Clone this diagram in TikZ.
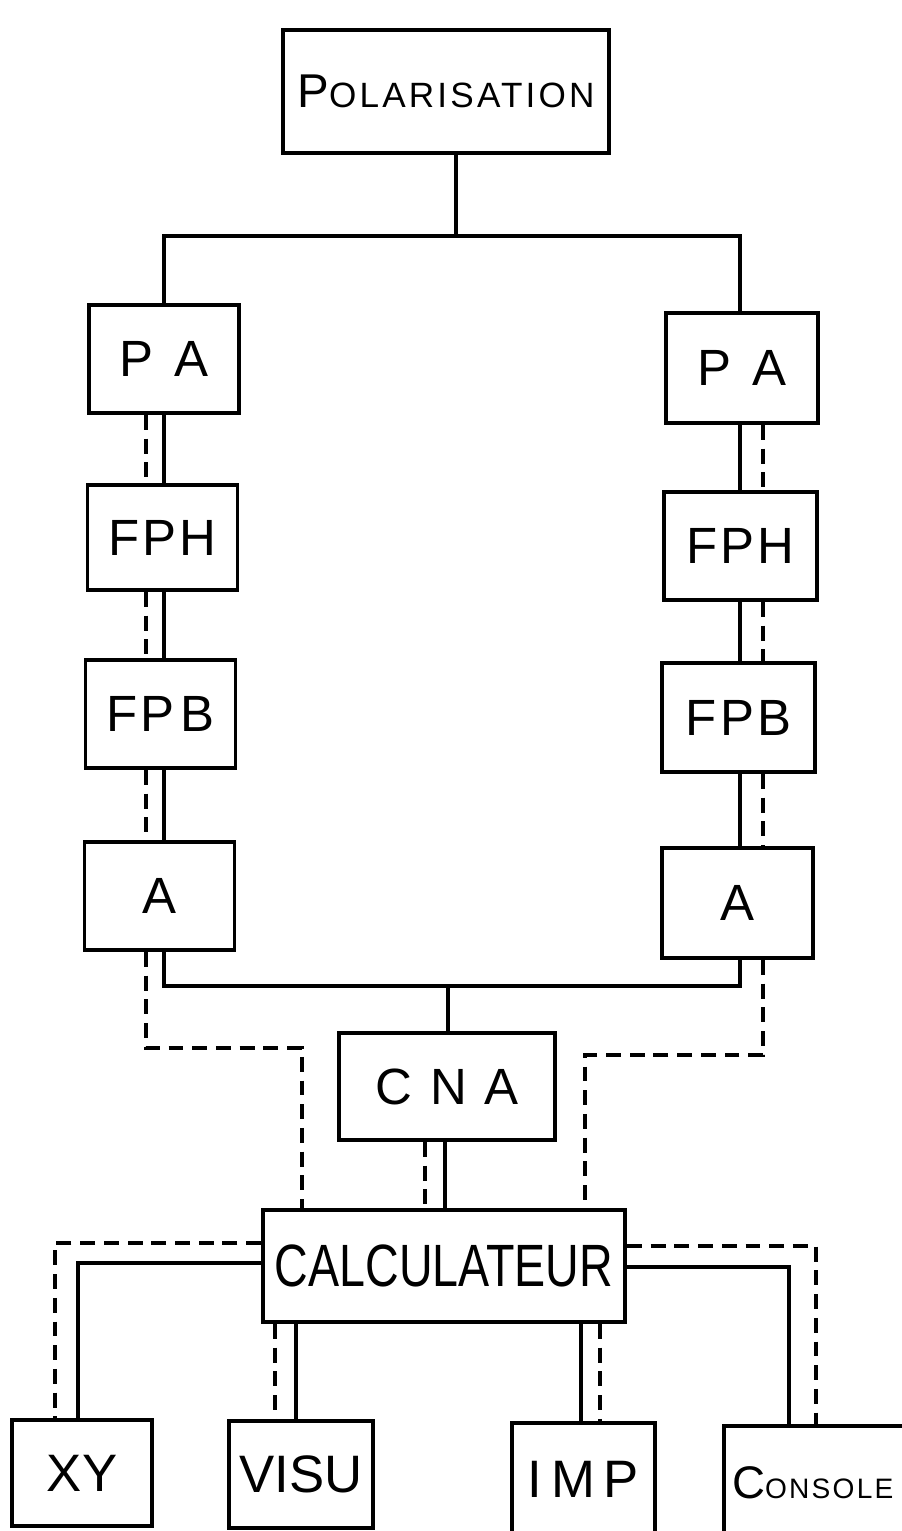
\documentclass[tikz,border=0pt]{standalone}
\usepackage{fontspec}
\setmainfont{Liberation Sans}
\usepackage{graphicx}
\usetikzlibrary{positioning, calc}

\begin{document}
\begin{tikzpicture}[x=0.02cm, y=-0.02cm,
  blk/.style={draw, line width=2.2pt, inner sep=0pt, minimum width=3cm, minimum height=2.16cm, font=\fontsize{29}{29}\selectfont},
  lo/.style={blk, font=\fontsize{30}{30}\selectfont},
  ln/.style={line width=2pt},
  dl/.style={line width=1.9pt, dash pattern=on 8.5pt off 5pt}]
\useasboundingbox (0,0) rectangle (902,1531);
\clip (0,0) rectangle (902,1531);

% top block
\node[blk, minimum width=6.52cm, minimum height=2.46cm] (pol) at (446,91.5)
  {\addfontfeatures{LetterSpace=9}\fontsize{27}{27}\selectfont P\fontsize{20}{20}\selectfont OLARISATION};

% left chain
\node[blk] (pa1) at (164,359) {P\hspace{.4em}A};
\node[blk, minimum height=2.1cm] (fph1) at (162.5,537.5) {F\hspace{.06em}P\hspace{.06em}H};
\node[blk] (fpb1) at (160.5,714) {F\hspace{.06em}P\hspace{.12em}B};
\node[blk] (a1) at (159.5,896) {A};

% right chain
\node[blk, minimum width=3.04cm, minimum height=2.2cm] (pa2) at (742,368) {P\hspace{.4em}A};
\node[blk, minimum width=3.06cm] (fph2) at (740.5,546) {F\hspace{.06em}P\hspace{.06em}H};
\node[blk, minimum width=3.06cm, minimum height=2.18cm] (fpb2) at (738.5,717.5) {F\hspace{.06em}P\hspace{.06em}B};
\node[blk, minimum width=3.02cm, minimum height=2.2cm] (a2) at (737.5,903) {A};

% converter and computer
\node[blk, minimum width=4.32cm, minimum height=2.14cm] (cna) at (447,1086.5) {C\hspace{.35em}N\hspace{.35em}A};
\node[blk, minimum width=7.24cm, minimum height=2.24cm, font=\fontsize{34}{34}\selectfont] (calc) at (444,1266) {\scalebox{0.78}[1]{CALCULATEUR}};

% peripherals
\node[lo, minimum width=2.8cm, minimum height=2.12cm] (xy) at (82,1473) {XY};
\node[lo, minimum width=2.88cm, minimum height=2.14cm] (visu) at (301,1474.5) {VISU};
\node[lo, minimum width=2.86cm, minimum height=2.24cm] (imp) at (583.5,1479) {I\,M\,P};
\node[blk, minimum width=4.72cm, minimum height=2.28cm, text width=4.4cm, align=left] (cons) at (842,1483)
  {\addfontfeatures{LetterSpace=8}\fontsize{26}{26}\selectfont C\fontsize{16}{16}\selectfont ONSOLE};

% supply bus
\coordinate (bt) at (456,236);
\draw[ln] (pol.south -| bt) -- (bt);
\draw[ln] (pa1.north -| 164,0) |- (bt) -| (pa2.north -| 740,0);

% chains
\foreach \u/\v in {pa1/fph1, fph1/fpb1, fpb1/a1} {
  \draw[ln] (\u.south -| 164,0) -- (\v.north -| 164,0);
  \draw[dl] (\u.south -| 146,0) -- (\v.north -| 146,0);
}
\foreach \u/\v in {pa2/fph2, fph2/fpb2, fpb2/a2} {
  \draw[ln] (\u.south -| 740,0) -- (\v.north -| 740,0);
  \draw[dl] (\u.south -| 763,0) -- (\v.north -| 763,0);
}

% outputs to CNA and computer
\coordinate (bb) at (448,986);
\draw[ln] (a1.south -| 164,0) |- (bb) -| (a2.south -| 740,0);
\draw[ln] (bb) -- (cna.north -| bb);
\coordinate (dl1) at (302,1048);
\coordinate (dr1) at (585,1055);
\draw[dl] (a1.south -| 146,0) |- (dl1) -- (calc.north -| dl1);
\draw[dl] (a2.south -| 763,0) |- (dr1) -- (calc.north -| dr1);
\draw[ln] (cna.south -| 445,0) -- (calc.north -| 445,0);
\draw[dl] (cna.south -| 425,0) -- (calc.north -| 425,0);

% peripherals links
\draw[dl] (calc.west |- 0,1243) -| (xy.north -| 55,0);
\draw[ln] (calc.west |- 0,1263) -| (xy.north -| 78,0);
\draw[dl] (calc.east |- 0,1246) -| (cons.north -| 816,0);
\draw[ln] (calc.east |- 0,1267) -| (cons.north -| 789,0);
\draw[dl] (calc.south -| 275,0) -- (visu.north -| 275,0);
\draw[ln] (calc.south -| 296,0) -- (visu.north -| 296,0);
\draw[ln] (calc.south -| 581,0) -- (imp.north -| 581,0);
\draw[dl] (calc.south -| 600,0) -- (imp.north -| 600,0);
\end{tikzpicture}
\end{document}
